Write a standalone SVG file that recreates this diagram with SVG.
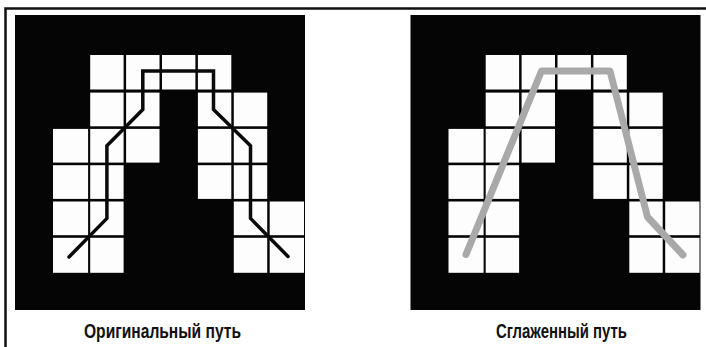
<svg xmlns="http://www.w3.org/2000/svg" xmlns:xlink="http://www.w3.org/1999/xlink" width="706" height="347" viewBox="0 0 706 347">
<style>
.bg{fill:#050505}
.cell{fill:#fdfdfd}
.frame{fill:none;stroke:#111;stroke-width:2.5}
.orig{fill:none;stroke:#0a0a0a;stroke-width:3.5;stroke-linejoin:miter;stroke-linecap:round}
.smooth{fill:none;stroke:#a9a9a9;stroke-width:7;stroke-linejoin:round;stroke-linecap:round}
.lbl{font-family:"Liberation Sans",Arial,sans-serif;font-weight:bold;font-size:20.5px;fill:#111}
</style>
<defs>
<g id="grid">
<rect class="bg" x="15" y="15" width="290" height="295"/>
<!-- row 0 -->
<rect class="cell" x="90.2" y="55" width="33.4" height="34.5"/>
<rect class="cell" x="126.1" y="55" width="33.4" height="34.5"/>
<rect class="cell" x="162" y="55" width="33.4" height="34.5"/>
<rect class="cell" x="197.9" y="55" width="33.4" height="34.5"/>
<!-- row 1 -->
<rect class="cell" x="90.2" y="92.6" width="33.4" height="33.7"/>
<rect class="cell" x="126.1" y="92.6" width="33.4" height="33.7"/>
<rect class="cell" x="197.9" y="92.6" width="33.4" height="33.7"/>
<rect class="cell" x="233.8" y="92.6" width="33.4" height="33.7"/>
<!-- row 2 -->
<rect class="cell" x="53" y="128.9" width="35.1" height="33.7"/>
<rect class="cell" x="90.2" y="128.9" width="33.4" height="33.7"/>
<rect class="cell" x="126.1" y="128.9" width="33.4" height="33.7"/>
<rect class="cell" x="197.9" y="128.9" width="33.4" height="33.7"/>
<rect class="cell" x="233.8" y="128.9" width="33.4" height="33.7"/>
<!-- row 3 -->
<rect class="cell" x="53" y="165.2" width="35.1" height="33.7"/>
<rect class="cell" x="90.2" y="165.2" width="33.4" height="33.7"/>
<rect class="cell" x="197.9" y="165.2" width="33.4" height="33.7"/>
<rect class="cell" x="233.8" y="165.2" width="33.4" height="33.7"/>
<!-- row 4 -->
<rect class="cell" x="53" y="201.5" width="35.1" height="33.7"/>
<rect class="cell" x="90.2" y="201.5" width="33.4" height="33.7"/>
<rect class="cell" x="233.8" y="201.5" width="33.4" height="33.7"/>
<rect class="cell" x="269.7" y="201.5" width="34.3" height="33.7"/>
<!-- row 5 -->
<rect class="cell" x="53" y="237.8" width="35.1" height="35"/>
<rect class="cell" x="90.2" y="237.8" width="33.4" height="35"/>
<rect class="cell" x="233.8" y="237.8" width="33.4" height="35"/>
<rect class="cell" x="269.7" y="237.8" width="34.3" height="35"/>
</g>
</defs>
<path class="frame" d="M5.5,347 L5.5,8.5 L706,8.5"/>
<g id="panel-original">
<use xlink:href="#grid" href="#grid"/>
<path class="orig" d="M69,257 L106.9,218.4 L106.9,145.8 L142.8,109.5 L142.8,71 L213.5,71 L213.5,109.5 L250.5,145.8 L250.5,218.4 L288,256.5"/>
<text class="lbl" x="84" y="338" textLength="157" lengthAdjust="spacingAndGlyphs">Оригинальный путь</text>
</g>
<g id="panel-smoothed" transform="translate(395.5,0)">
<use xlink:href="#grid" href="#grid"/>
<path class="smooth" d="M70.5,254.5 L146,71 L214.5,71 L252,217 L287.5,255"/>
</g>
<text class="lbl" x="496" y="338" textLength="131" lengthAdjust="spacingAndGlyphs">Сглаженный путь</text>
</svg>
